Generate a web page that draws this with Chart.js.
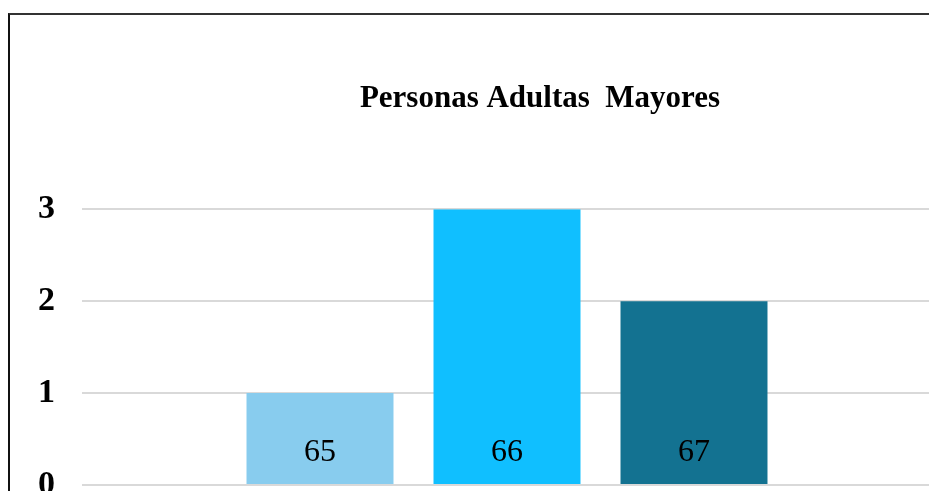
<!DOCTYPE html>
<html>
<head>
<meta charset="utf-8">
<script src="https://cdn.jsdelivr.net/npm/chart.js@4/dist/chart.umd.min.js"></script>
<style>
  html, body { margin: 0; padding: 0; background: #fff; overflow: hidden; width: 929px; height: 491px; }
  #frame { position: absolute; left: 8px; top: 13px; width: 2000px; height: 2000px;
           border-left: 2px solid #111; border-top: 2px solid #333; }
  #wrap { position: absolute; left: 0; top: 0; width: 1080px; height: 560px; }
</style>
</head>
<body>
<div id="frame"></div>
<div id="wrap"><canvas id="chart"></canvas></div>
<script>
// データ
const categories = ['Edad'];
const seriesNames = ['65', '66', '67'];
const seriesValues = [[1], [3], [2]];
const seriesColors = ['#88CCEE', '#10BFFF', '#137291'];
const yTicks = [0, 1, 2, 3];

const serif = "'Liberation Serif', 'Times New Roman', serif";

// バーの中に系列名を表示
const barNamePlugin = {
    id: 'barName',
    afterDatasetsDraw(chart) {
        const ctx = chart.ctx;
        const y0 = chart.scales.y.getPixelForValue(0);
        ctx.save();
        ctx.font = "32px " + serif;
        ctx.fillStyle = '#000';
        ctx.textAlign = 'center';
        ctx.textBaseline = 'middle';
        chart.data.datasets.forEach((ds, i) => {
            chart.getDatasetMeta(i).data.forEach(bar => {
                ctx.fillText(ds.label, bar.x, y0 - 32);
            });
        });
        ctx.restore();
    }
};

const datasets = seriesNames.map((name, i) => ({
    label: name,
    data: seriesValues[i],
    backgroundColor: seriesColors[i],
    borderWidth: 0,
    categoryPercentage: 0.66,
    barPercentage: 0.786
}));

new Chart(document.getElementById('chart'), {
    type: 'bar',
    data: { labels: categories, datasets: datasets },
    plugins: [barNamePlugin],
    options: {
        responsive: true,
        maintainAspectRatio: false,
        animation: false,
        layout: { padding: { top: 0, left: 0, right: 0, bottom: 75 } },
        plugins: {
            legend: { display: false },
            tooltip: { enabled: false },
            title: {
                display: true,
                text: 'Personas Adultas  Mayores',
                color: '#000',
                font: { family: serif, size: 31, weight: 'bold' },
                padding: { top: 80, bottom: 92 }
            }
        },
        scales: {
            x: { display: false },
            y: {
                min: yTicks[0],
                max: yTicks[yTicks.length - 1],
                afterBuildTicks: s => { s.ticks = yTicks.map(v => ({ value: v })); },
                afterFit: s => { s.width = 82; },
                border: { display: false },
                grid: { color: '#d9d9d9', lineWidth: 2, drawTicks: false },
                ticks: {
                    padding: 27,
                    color: '#000',
                    font: { family: serif, size: 34, weight: 'bold' }
                }
            },
            // 右側の余白用
            yRight: {
                position: 'right',
                display: true,
                afterFit: s => { s.width = 148; },
                border: { display: false },
                grid: { display: false },
                ticks: { display: false }
            }
        }
    }
});
</script>
</body>
</html>
